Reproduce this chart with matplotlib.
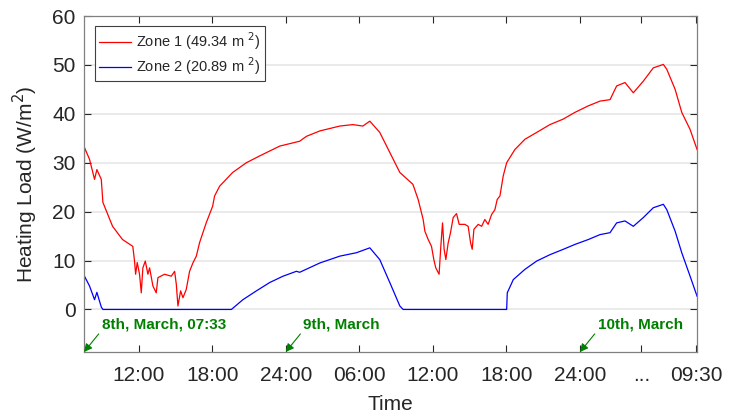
#!/usr/bin/env python
# coding: utf-8
import matplotlib
matplotlib.use("Agg")
import matplotlib.pyplot as plt

# time in hours since 8th March 00:00
zone1_t = [7.55, 7.59, 8.0, 8.41, 8.60, 8.96, 9.09, 9.88, 10.69, 11.53, 11.67, 11.76,
           11.89, 12.08, 12.22, 12.35, 12.55, 12.76, 12.90, 13.17, 13.44, 13.58, 14.12,
           14.67, 14.94, 15.08, 15.21, 15.43, 15.62, 15.89, 16.16, 16.43, 16.71, 16.98,
           17.53, 18.04, 18.20, 18.61, 19.67, 20.79, 21.88, 23.51, 25.14, 25.69, 26.78,
           28.41, 29.47, 30.29, 30.86, 31.67, 32.49, 33.31, 34.37, 34.80, 35.21, 35.35,
           35.62, 35.89, 36.08, 36.24, 36.51, 36.65, 36.79, 36.92, 37.06, 37.25, 37.44,
           37.66, 37.93, 38.15, 38.61, 38.88, 39.08, 39.21, 39.35, 39.70, 39.98, 40.24,
           40.51, 40.79, 41.06, 41.25, 41.47, 41.74, 42.02, 42.69, 43.51, 44.47, 45.55,
           46.61, 47.59, 48.65, 49.63, 50.45, 50.99, 51.67, 52.35, 53.17, 53.98, 54.80,
           55.08, 55.76, 56.30, 56.98, 57.55]
zone1_q = [0, 33.1, 30.7, 26.6, 28.6, 26.6, 21.9, 17.0, 14.3, 12.9, 9.9, 7.2,
           9.6, 7.2, 3.4, 8.5, 9.9, 7.2, 8.5, 4.8, 3.4, 6.5, 7.2,
           6.8, 7.8, 5.1, 0.7, 3.8, 2.4, 4.1, 7.8, 9.5, 10.9, 13.7,
           17.8, 21.1, 23.2, 25.2, 28.0, 30.0, 31.4, 33.4, 34.4, 35.4, 36.5,
           37.5, 37.8, 37.5, 38.5, 36.2, 32.1, 28.0, 25.6, 22.5, 18.4, 16.0,
           14.3, 12.9, 10.2, 8.5, 7.2, 12.9, 17.7, 12.3, 10.2, 13.6, 15.7,
           18.8, 19.6, 17.4, 17.4, 17.0, 13.6, 12.3, 16.4, 17.4, 17.0, 18.4,
           17.4, 19.4, 20.4, 22.5, 23.2, 27.3, 30.0, 32.7, 34.8, 36.2, 37.8,
           38.9, 40.3, 41.6, 42.6, 42.9, 45.7, 46.4, 44.3, 46.7, 49.4, 50.1,
           49.1, 45.0, 40.3, 36.8, 32.7]

zone2_t = [7.55, 7.59, 8.0, 8.41, 8.60, 8.96, 9.09, 19.57, 20.51, 21.61, 22.69, 23.78,
           24.87, 25.14, 26.78, 28.41, 29.77, 30.86, 31.67, 32.49, 33.31, 33.58, 42.02,
           42.07, 42.56, 43.51, 44.47, 45.55, 46.64, 47.59, 48.68, 49.63, 50.45, 50.99,
           51.67, 52.35, 53.17, 53.98, 54.80, 55.08, 55.76, 56.30, 56.98, 57.55]
zone2_q = [0, 6.8, 4.8, 2.0, 3.5, 0.5, 0, 0, 2.0, 3.8, 5.5, 6.8,
           7.8, 7.6, 9.5, 10.9, 11.6, 12.6, 10.2, 5.5, 0.7, 0, 0,
           3.4, 6.1, 8.2, 9.9, 11.2, 12.3, 13.3, 14.3, 15.3, 15.7, 17.7,
           18.1, 17.0, 18.8, 20.8, 21.5, 20.4, 16.0, 11.6, 6.8, 2.7]

tick_pos = [12, 18, 24, 30, 36, 42, 48, 53, 57.5]
tick_lab = ["12:00", "18:00", "24:00", "06:00", "12:00", "18:00", "24:00", "...", "09:30"]

note_t = [7.55, 24, 48]
note_lab = ["8th, March, 07:33", "9th, March", "10th, March"]

plt.rcParams['font.family'] = ['Liberation Sans', 'DejaVu Sans']

fig = plt.figure(figsize=(7.33, 4.15), dpi=100)
fig.patch.set_facecolor('white')
ax = fig.add_axes([0.1146, 0.1518, 0.8364, 0.8096])

ax.plot(zone1_t, zone1_q, color='red', lw=0.9, label='Zone 1 (49.34 m $^2$)')
ax.plot(zone2_t, zone2_q, color='blue', lw=0.9, label='Zone 2 (20.89 m $^2$)')

ax.set_xlim(7.55, 57.55)
ax.set_ylim(-8.7, 60)
ax.set_yticks(range(0, 61, 10))
ax.set_xticks(tick_pos)
ax.set_xticklabels(tick_lab)
ax.yaxis.grid(True, color='#e6e6e6', lw=1.2)
ax.set_axisbelow(True)

ax.tick_params(direction='in', top=True, right=True, labelsize=15,
               colors='#262626', length=5, width=0.8)
ax.tick_params(axis='x', pad=10)
ax.tick_params(axis='y', pad=6)
for sp in ax.spines.values():
    sp.set_color('#808080')
    sp.set_linewidth(0.9)

ax.set_xlabel("Time", fontsize=15, color='#262626', labelpad=7)
ax.set_ylabel("Heating Load (W/m$^2$)", fontsize=15, color='#262626', labelpad=9)

green = '#008000'
for t, lab in zip(note_t, note_lab):
    ax.annotate('', xy=(t, -8.7), xytext=(t + 1.2, -5.0),
                arrowprops=dict(arrowstyle='-|>', color=green, lw=0.8,
                                mutation_scale=12, shrinkA=0, shrinkB=0))
    ax.text(t + 1.45, -3.1, lab, color=green, fontsize=11, fontweight='bold',
            va='center', ha='left')

leg = ax.legend(loc='upper left', bbox_to_anchor=(0.018, 0.97), borderaxespad=0,
                fontsize=10.5, fancybox=False, handlelength=2.2, handletextpad=0.3,
                edgecolor='#404040', framealpha=1, borderpad=0.3, labelspacing=0.2)
leg.get_frame().set_linewidth(0.8)
for t in leg.get_texts():
    t.set_color('#262626')

fig.savefig('out.png', dpi=100, facecolor='white')
